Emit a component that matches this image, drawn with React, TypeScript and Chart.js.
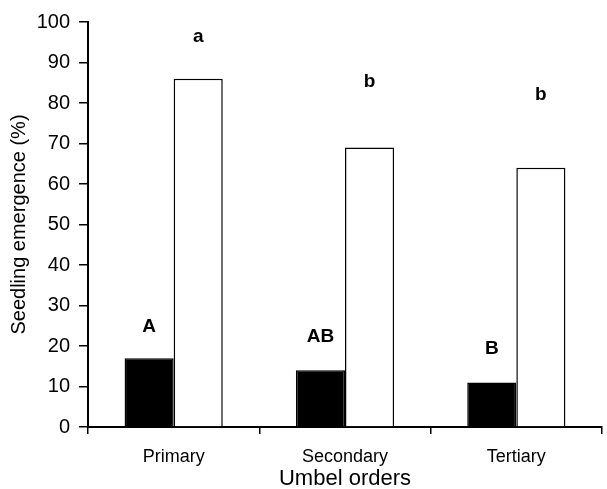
import React, { useEffect, useRef } from "react";
import { Chart, registerables } from "chart.js";

Chart.register(...registerables);

const categories = ["Primary", "Secondary", "Tertiary"];
const blackValues = [17, 14, 11];
const whiteValues = [86, 69, 64];
const blackLetters = ["A", "AB", "B"];
const whiteLetters = ["a", "b", "b"];
const blackLetterAt = [24.7, 22.2, 19.3];
const whiteLetterAt = [96.3, 85.2, 82];
const yTicks = [0, 10, 20, 30, 40, 50, 60, 70, 80, 90, 100];

const FONT = "'Liberation Sans', Arial, sans-serif";

const letterPlugin = {
  id: "letters",
  afterDatasetsDraw(chart: any) {
    const ctx = chart.ctx;
    const yScale = chart.scales.y;
    ctx.save();
    ctx.fillStyle = "#000";
    ctx.font = `bold 19px ${FONT}`;
    ctx.textAlign = "center";
    ctx.textBaseline = "middle";
    const sets = [
      { letters: blackLetters, at: blackLetterAt, ds: 0 },
      { letters: whiteLetters, at: whiteLetterAt, ds: 1 },
    ];
    sets.forEach((s) => {
      const meta = chart.getDatasetMeta(s.ds);
      meta.data.forEach((bar: any, i: number) => {
        ctx.fillText(s.letters[i], bar.x, yScale.getPixelForValue(s.at[i]));
      });
    });
    ctx.restore();
  },
};

export default function App() {
  const ref = useRef<HTMLCanvasElement>(null);
  useEffect(() => {
    if (!ref.current) return;
    const chart = new Chart(ref.current, {
      type: "bar",
      data: {
        labels: categories,
        datasets: [
          {
            data: blackValues,
            backgroundColor: "#000",
            borderColor: "#000",
            borderWidth: 1.5,
            barPercentage: 1,
            categoryPercentage: 0.573,
          },
          {
            data: whiteValues,
            backgroundColor: "#fff",
            borderColor: "#000",
            borderWidth: 1.5,
            barPercentage: 1,
            categoryPercentage: 0.573,
          },
        ],
      },
      options: {
        animation: false,
        responsive: false,
        devicePixelRatio: 1,
        layout: { padding: { top: 22, right: 5, left: 0, bottom: 0 } },
        plugins: { legend: { display: false }, tooltip: { enabled: false } },
        scales: {
          x: {
            afterFit: (scale: any) => {
              scale.height = 62;
            },
            grid: {
              display: true,
              drawOnChartArea: false,
              drawTicks: true,
              tickLength: 7,
              color: "#000",
              lineWidth: 1.5,
              offset: true,
            },
            border: { display: true, color: "#000", width: 2 },
            ticks: { color: "#000", font: { family: FONT, size: 18 }, padding: 12 },
            title: {
              display: true,
              text: "Umbel orders",
              color: "#000",
              font: { family: FONT, size: 22 },
              padding: { top: 0, bottom: -3 },
            },
          },
          y: {
            min: 0,
            max: 100,
            afterFit: (scale: any) => {
              scale.width = 88;
            },
            afterBuildTicks: (scale: any) => {
              scale.ticks = yTicks.map((v) => ({ value: v }));
            },
            grid: {
              display: true,
              drawOnChartArea: false,
              drawTicks: true,
              tickLength: 9,
              color: "#000",
              lineWidth: 1.5,
            },
            border: { display: true, color: "#000", width: 2 },
            ticks: { color: "#000", font: { family: FONT, size: 20 }, padding: 9 },
            title: {
              display: true,
              text: "Seedling emergence (%)",
              color: "#000",
              font: { family: FONT, size: 20 },
              padding: { top: 7, bottom: 0 },
            },
          },
        },
      },
      plugins: [letterPlugin],
    });
    return () => chart.destroy();
  }, []);
  return (
    <div style={{ position: "fixed", left: 0, top: 0, width: 607, height: 489, background: "#fff" }}>
      <canvas ref={ref} width={607} height={489} />
    </div>
  );
}
